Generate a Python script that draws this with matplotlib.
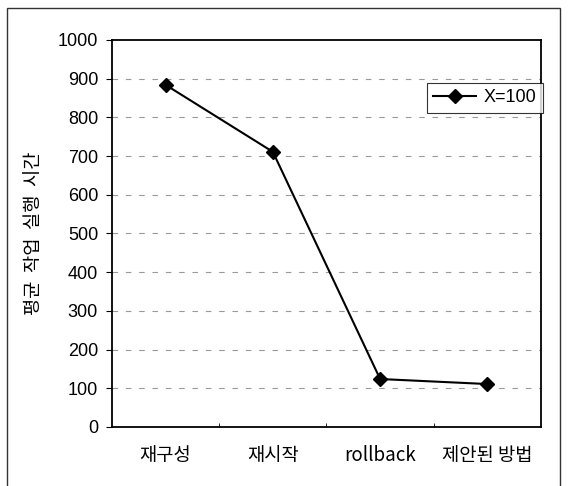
import matplotlib.pyplot as plt
from matplotlib.patches import Rectangle

# 평균 작업 실행 시간 비교
methods = ['재구성', '재시작', 'rollback', '제안된 방법']
times = [884, 711, 124, 111]
series_label = 'X=100'
yticks = [0, 100, 200, 300, 400, 500, 600, 700, 800, 900, 1000]

plt.rcParams['font.family'] = ['Liberation Sans', 'Noto Sans CJK KR', 'DejaVu Sans']
plt.rcParams['font.size'] = 13

fig = plt.figure(figsize=(5.69, 4.86), dpi=100)
ax = fig.add_axes([0.1968, 0.1214, 0.754, 0.7963])

# 바깥 테두리
fig.patches.append(Rectangle((7 / 569, -0.05), 553 / 569, 1.05 - 8 / 486,
                             transform=fig.transFigure, fill=False,
                             edgecolor='#333333', linewidth=1.0))

x = list(range(len(methods)))
ax.plot(x, times, color='black', linewidth=1.5, marker='D', markersize=7,
        markerfacecolor='black', label=series_label, zorder=3)

ax.set_xlim(-0.5, len(methods) - 0.5)
ax.set_ylim(0, 1000)
ax.set_yticks(yticks)
ax.set_xticks(x)
ax.set_xticklabels(methods, family=['Noto Sans CJK KR', 'DejaVu Sans'], fontsize=13.5)
ax.tick_params(axis='x', length=0, pad=13)
ax.tick_params(axis='y', length=4, width=0.8, direction='out', pad=6, labelsize=13)
ax.set_xticks([0.5, 1.5, 2.5], minor=True)
ax.tick_params(axis='x', which='minor', length=3, direction='in')

for y in yticks[1:-1]:
    ax.axhline(y, color='#999999', linewidth=0.8, linestyle=(0, (5, 7)), zorder=1)

for side in ['top', 'right', 'bottom', 'left']:
    ax.spines[side].set_linewidth(1.3)
    ax.spines[side].set_color('black')

ax.set_ylabel('평균  작업  실행  시간', family=['Noto Sans CJK KR', 'DejaVu Sans'],
              fontsize=13.5, labelpad=10)

leg = ax.legend(loc='upper right', bbox_to_anchor=(1.004, 0.889), borderaxespad=0,
                frameon=True, fancybox=False, borderpad=0.35, handlelength=2.4,
                handletextpad=0.4, fontsize=13)
leg.get_frame().set_edgecolor('black')
leg.get_frame().set_linewidth(0.8)

fig.savefig('out.png', dpi=100)
